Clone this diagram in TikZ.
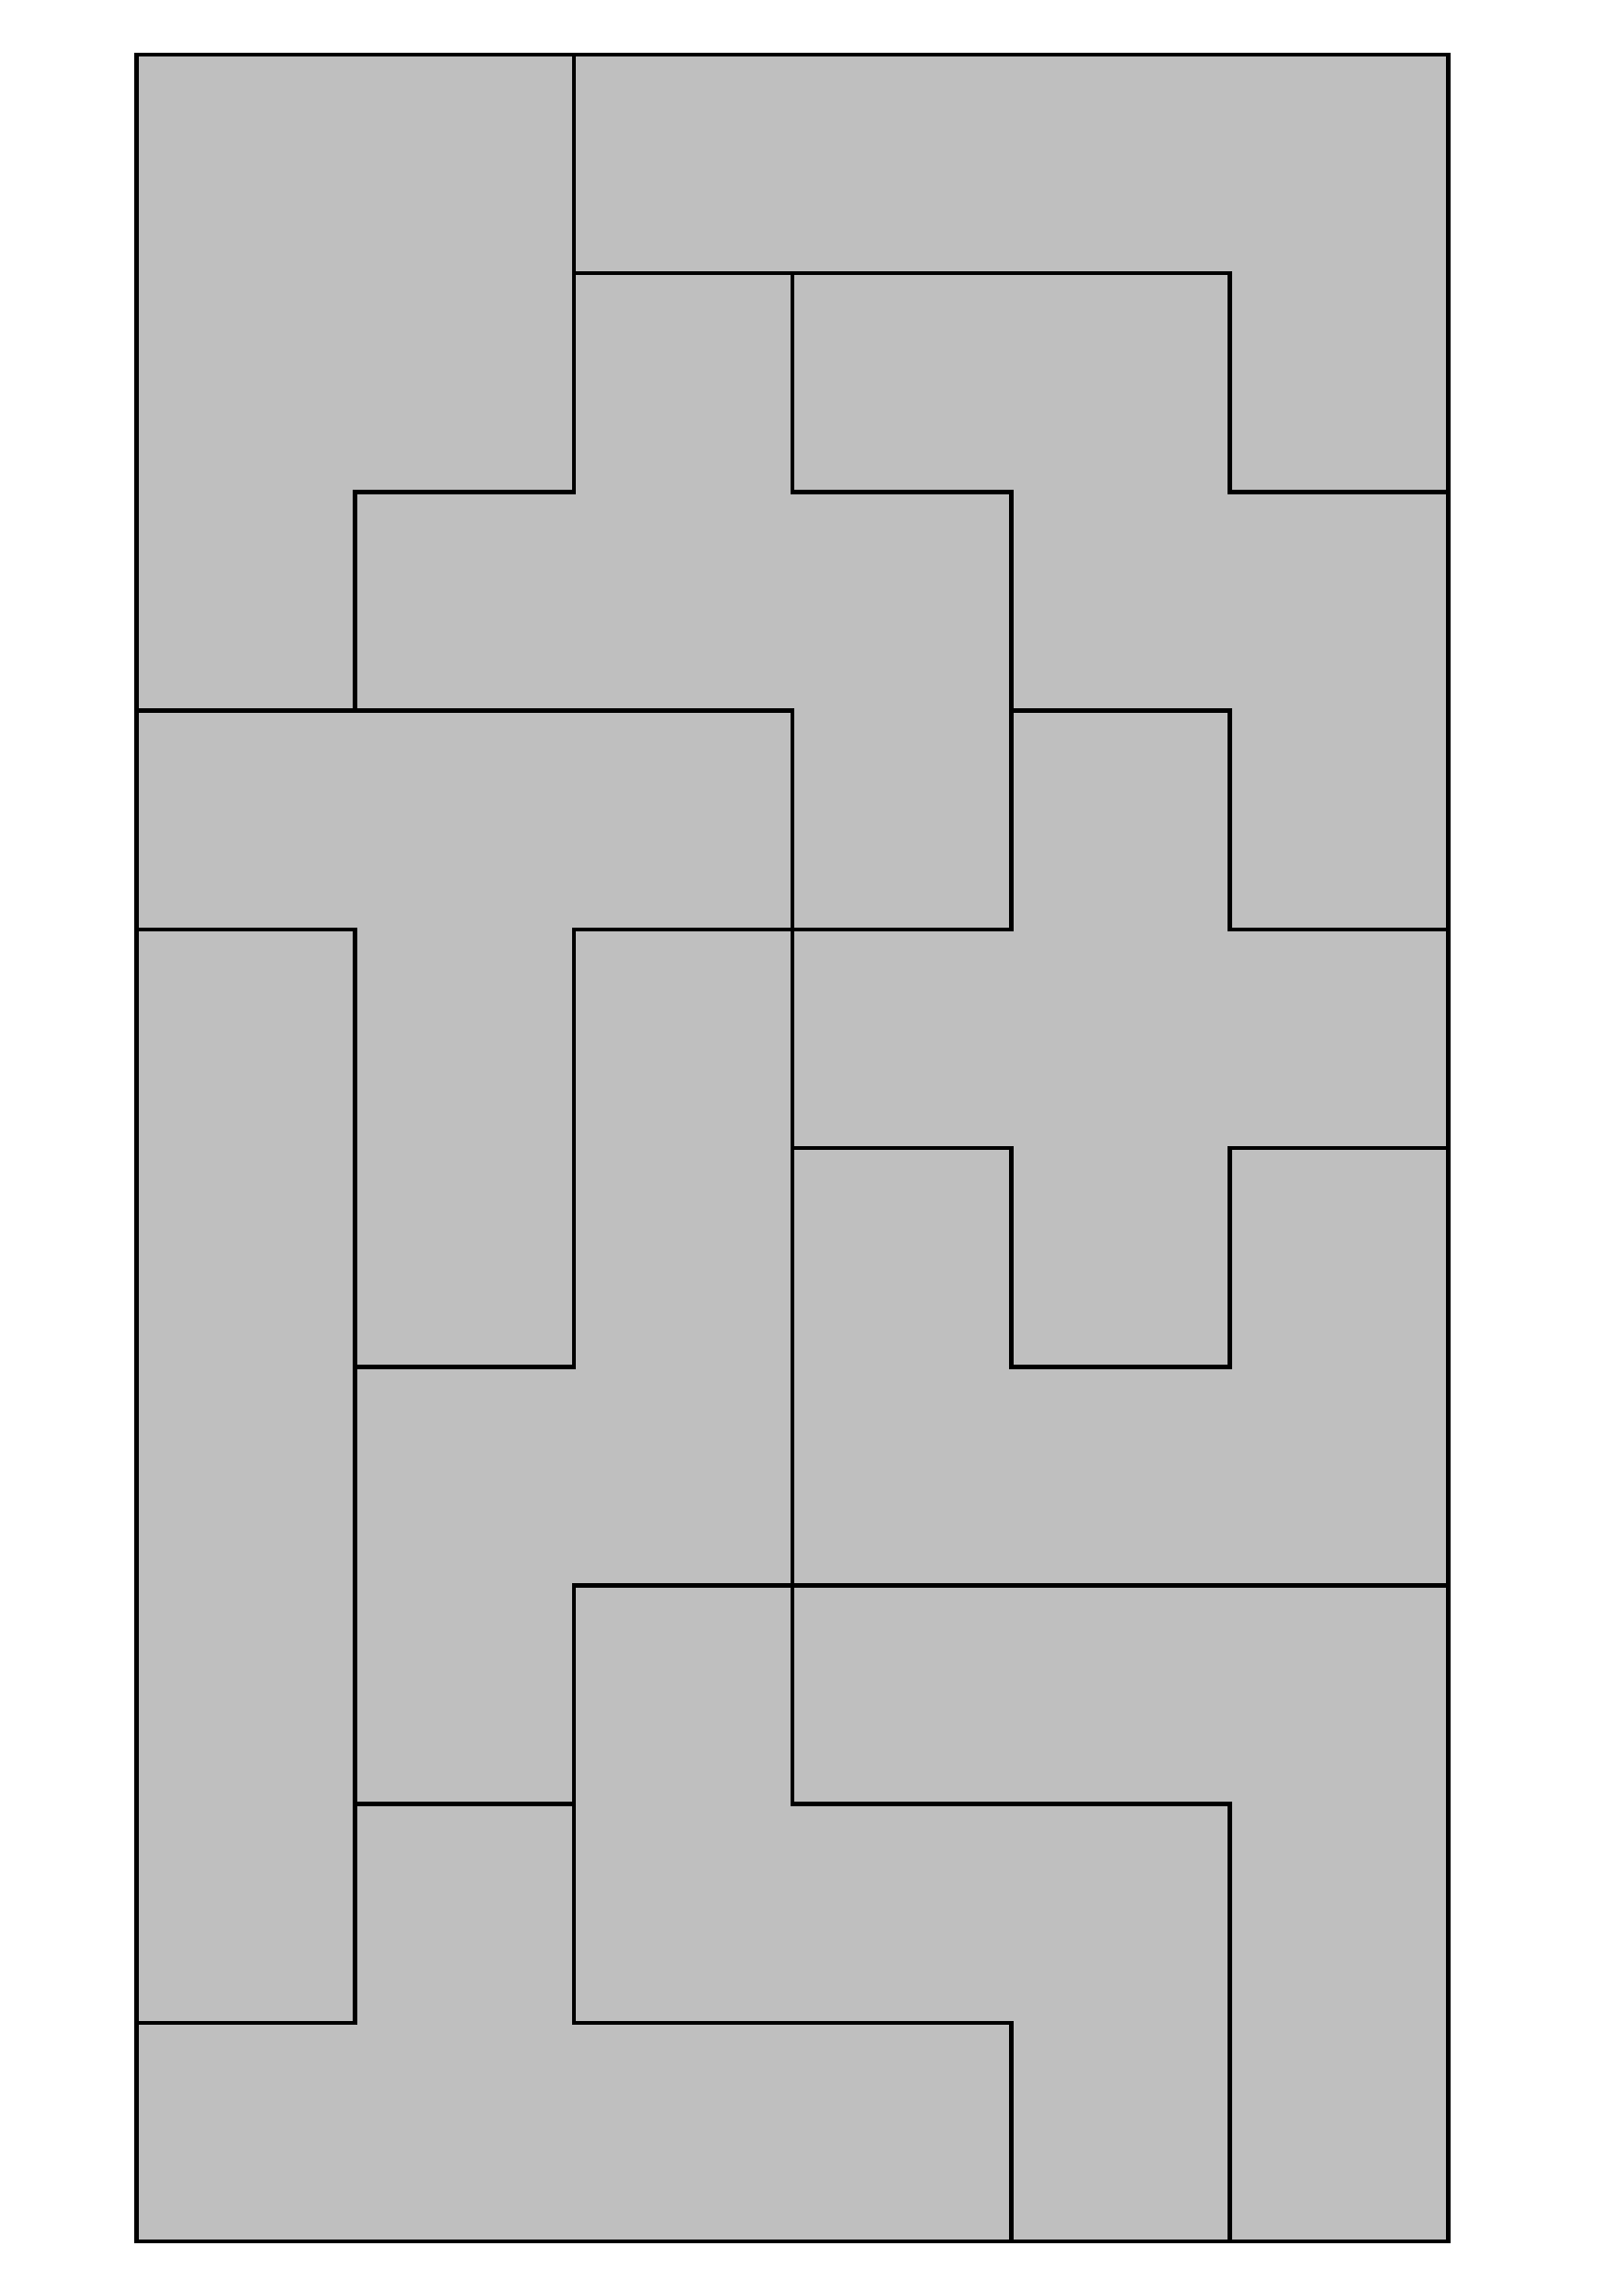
\documentclass[tikz,border=0pt]{standalone}
\definecolor{tilegray}{RGB}{191,191,191}
\begin{document}
\begin{tikzpicture}[x=118.125pt,y=-118.125pt,
  edge/.style={line width=2.3pt,line cap=rect,draw=black}]
\useasboundingbox (-0.6243,-0.2497) rectangle (6.7831,10.2497);
\fill[tilegray] (0,0) rectangle (6,10);
% internal edges
\draw[edge] (2,0) -- (2,2);
\draw[edge] (2,1) -- (5,1);
\draw[edge] (3,1) -- (3,2);
\draw[edge] (5,1) -- (5,2);
\draw[edge] (1,2) -- (2,2);
\draw[edge] (3,2) -- (4,2);
\draw[edge] (5,2) -- (6,2);
\draw[edge] (1,2) -- (1,3);
\draw[edge] (4,2) -- (4,4);
\draw[edge] (0,3) -- (3,3);
\draw[edge] (4,3) -- (5,3);
\draw[edge] (5,3) -- (5,4);
\draw[edge] (0,4) -- (1,4);
\draw[edge] (2,4) -- (4,4);
\draw[edge] (5,4) -- (6,4);
\draw[edge] (1,4) -- (1,9);
\draw[edge] (2,4) -- (2,6);
\draw[edge] (1,6) -- (2,6);
\draw[edge] (3,3) -- (3,8);
\draw[edge] (3,5) -- (4,5);
\draw[edge] (5,5) -- (6,5);
\draw[edge] (4,5) -- (4,6);
\draw[edge] (5,5) -- (5,6);
\draw[edge] (4,6) -- (5,6);
\draw[edge] (2,7) -- (6,7);
\draw[edge] (2,7) -- (2,9);
\draw[edge] (1,8) -- (2,8);
\draw[edge] (3,8) -- (5,8);
\draw[edge] (5,8) -- (5,10);
\draw[edge] (0,9) -- (1,9);
\draw[edge] (2,9) -- (4,9);
\draw[edge] (4,9) -- (4,10);
% border
\draw[edge,line join=miter] (0,0) rectangle (6,10);
\end{tikzpicture}
\end{document}
